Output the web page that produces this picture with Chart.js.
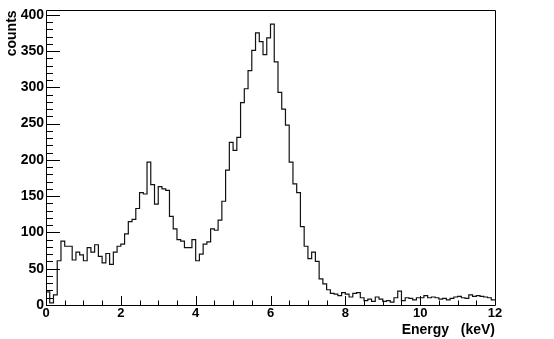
<!DOCTYPE html>
<html>
<head>
<meta charset="utf-8">
<script src="https://cdn.jsdelivr.net/npm/chart.js@4.4.1/dist/chart.umd.min.js"></script>
<style>
  html, body { margin: 0; padding: 0; background: #ffffff; }
  #c { display: block; }
</style>
</head>
<body>
<canvas id="c" width="554" height="339"></canvas>
<script>
// ---- data ----
const energyMin = 0;      // keV, low edge of first bin
const binWidth = 0.1;     // keV
const counts = [
  18, 3, 14, 61, 88, 81, 81, 62, 73, 69,
  61, 79, 73, 83, 67, 58, 71, 56, 73, 81,
  84, 98, 115, 118, 133, 155, 153, 197, 166, 139,
  163, 160, 158, 122, 105, 90, 88, 79, 79, 90,
  61, 70, 84, 87, 105, 103, 117, 143, 186, 224,
  213, 231, 279, 298, 323, 351, 375, 363, 345, 368,
  387, 335, 293, 270, 248, 197, 167, 155, 108, 81,
  64, 73, 60, 36, 29, 21, 16, 15, 13, 17,
  15, 11, 16, 17, 10, 6, 8, 5, 11, 8,
  5, 6, 4, 10, 19, 6, 10, 9, 7, 10,
  10, 13, 10, 11, 10, 8, 9, 7, 9, 11,
  12, 10, 9, 14, 12, 13, 12, 11, 10, 7
];
const xTickValues = [0, 2, 4, 6, 8, 10, 12];
const yTickValues = [0, 50, 100, 150, 200, 250, 300, 350, 400];
const xTitle = 'Energy   (keV)';
const yTitle = 'counts';

// histogram points at bin low edges, plus closing point at upper edge
const points = counts.map((v, i) => ({ x: energyMin + i * binWidth, y: v }));
points.push({ x: energyMin + counts.length * binWidth, y: counts[counts.length - 1] });

const xLabelFont = { family: "'Liberation Sans', Arial, sans-serif", size: 13, weight: 'bold' };
const yLabelFont = { family: "'Liberation Sans', Arial, sans-serif", size: 14, weight: 'bold' };
const titleFont = { family: "'Liberation Sans', Arial, sans-serif", size: 14, weight: 'bold' };

// ROOT-style frame with inward ticks
const framePlugin = {
  id: 'rootFrame',
  afterDatasetsDraw(chart) {
    const { ctx, chartArea, scales } = chart;
    const { left, right, top, bottom } = chartArea;
    ctx.save();
    ctx.strokeStyle = '#000';
    ctx.lineWidth = 1;
    ctx.beginPath();
    ctx.rect(Math.round(left) + 0.5, Math.round(top) + 0.5,
             Math.round(right) - Math.round(left), Math.round(bottom) - Math.round(top));
    ctx.stroke();
    ctx.beginPath();
    const ys = scales.y;
    for (let v = 0; v <= ys.max; v += 10) {
      const py = Math.round(ys.getPixelForValue(v)) + 0.5;
      const len = (v % 50 === 0) ? 14 : 7;
      ctx.moveTo(left, py);
      ctx.lineTo(left + len, py);
    }
    const xs = scales.x;
    for (let e = 0; e <= xs.max + 1e-9; e += 0.5) {
      const px = Math.round(xs.getPixelForValue(e)) + 0.5;
      const len = (Math.abs(e % 2) < 1e-9) ? 9 : 4.5;
      ctx.moveTo(px, bottom);
      ctx.lineTo(px, bottom - len);
    }
    ctx.stroke();
    ctx.restore();
  }
};

new Chart(document.getElementById('c'), {
  type: 'line',
  data: {
    datasets: [{
      data: points,
      stepped: 'before',
      borderColor: '#111111',
      borderWidth: 1.2,
      pointRadius: 0,
      fill: false,
      tension: 0
    }]
  },
  options: {
    responsive: false,
    animation: false,
    devicePixelRatio: 1,
    layout: { padding: { left: 0, right: 59, top: 5, bottom: 0 } },
    plugins: { legend: { display: false }, tooltip: { enabled: false } },
    scales: {
      x: {
        type: 'linear',
        min: 0,
        max: 12,
        afterBuildTicks: (s) => { s.ticks = xTickValues.map(v => ({ value: v })); },
        afterFit: (s) => { s.height = 34; },
        grid: { display: false, drawTicks: false },
        border: { display: false },
        ticks: { color: '#000', font: xLabelFont, padding: 1, maxRotation: 0, autoSkip: false },
        title: { display: true, text: xTitle, align: 'end', color: '#000', font: titleFont,
                 padding: { top: 0, bottom: 0 } }
      },
      y: {
        type: 'linear',
        min: 0,
        max: 406,
        afterBuildTicks: (s) => { s.ticks = yTickValues.map(v => ({ value: v })); },
        afterFit: (s) => { s.width = 46; },
        grid: { display: false, drawTicks: false },
        border: { display: false },
        ticks: { color: '#000', font: yLabelFont, padding: 2, autoSkip: false },
        title: { display: true, text: yTitle, align: 'end', color: '#000', font: titleFont,
                 padding: { top: 4, bottom: 0 } }
      }
    }
  },
  plugins: [framePlugin]
});
</script>
</body>
</html>
